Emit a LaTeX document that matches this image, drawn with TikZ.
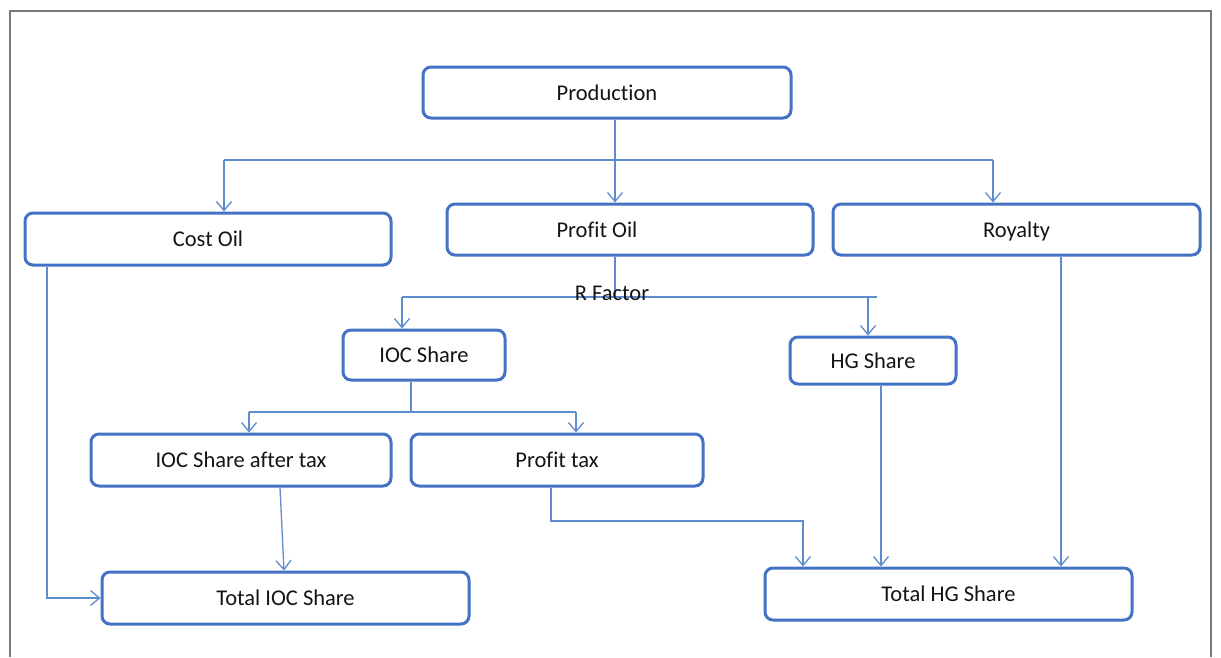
\documentclass[tikz,border=0pt]{standalone}
\usepackage{fontspec}
\setmainfont{Carlito}[Ligatures=NoCommon]
\usetikzlibrary{arrows.meta}
\definecolor{boxblue}{RGB}{68,114,196}
\definecolor{lineblue}{RGB}{95,140,205}
\definecolor{txt}{RGB}{20,20,20}
\definecolor{framegray}{RGB}{120,120,120}
\begin{document}
\begin{tikzpicture}[x=1pt,y=-1pt,
  box/.style={draw=boxblue, line width=3pt, rounded corners=8pt, inner sep=0pt,
    text=txt, font=\fontsize{22.5}{26}\selectfont},
  link/.style={draw=lineblue, line width=1.3pt},
  arr/.style={link, -{Straight Barb[length=9pt,width=15pt,line width=1.3pt]}},
  lbl/.style={text=txt, font=\fontsize{22.5}{26}\selectfont, inner sep=0pt}]
\useasboundingbox (0,0) rectangle (1221,657);
\draw[framegray, line width=2pt] (10,657) -- (10,11) -- (1211,11) -- (1211,657);

\node[box, minimum width=368pt, minimum height=51pt] (prod) at (607,92.5) {Production};
\node[box, minimum width=366pt, minimum height=52pt] (cost) at (208,239) {Cost Oil};
\node[box, minimum width=366pt, minimum height=51pt,
  label={[lbl, xshift=-33pt]center:Profit Oil}] (profit) at (630,229.5) {};
\node[box, minimum width=367pt, minimum height=51pt, text depth=0pt] (roy) at (1016.5,229.5) {Royalty};
\node[box, minimum width=162pt, minimum height=50pt] (iocs) at (424,355) {IOC Share};
\node[box, minimum width=166pt, minimum height=47pt] (hgs) at (873,360.5) {HG Share};
\node[box, minimum width=300pt, minimum height=52pt] (iocat) at (241,460) {IOC Share after tax};
\node[box, minimum width=292pt, minimum height=52pt] (ptax) at (557,460) {Profit tax};
\node[box, minimum width=367pt, minimum height=52pt] (tioc) at (285.5,598) {Total IOC Share};
\node[box, minimum width=367pt, minimum height=52pt] (thg) at (948.5,594) {Total HG Share};

% Production split
\coordinate (a) at (615,160);
\coordinate (aL) at (224,160);
\coordinate (aR) at (993,160);
\draw[link] (aL) -- (aR);
\draw[arr] (prod.south -| a) -- (profit.north -| a);
\draw[arr] (aL) -- (cost.north -| aL);
\draw[arr] (aR) -- (roy.north -| aR);

% R factor split
\coordinate (b) at (615,297);
\coordinate (bL) at (402,297);
\coordinate (bH) at (868,297);
\coordinate (bR) at (877,297);
\draw[link] (profit.south -| b) -- (b);
\draw[link] (bL) -- (bR);
\draw[arr] (bL) -- (iocs.north -| bL);
\draw[arr] (bH) -- (hgs.north -| bH);
\node[lbl] (rf) at (612,293) {R Factor};

% IOC share split
\coordinate (c) at (411,412);
\coordinate (cL) at (249,412);
\coordinate (cR) at (576,412);
\draw[link] (iocs.south -| c) -- (c);
\draw[link] (cL) -- (cR);
\draw[arr] (cL) -- (iocat.north -| cL);
\draw[arr] (cR) -- (ptax.north -| cR);

% Cost oil to total IOC
\coordinate (d) at (47,598);
\draw[arr] (cost.south -| d) -- (d) -- (tioc.west);

% IOC after tax to total IOC
\draw[arr] ([xshift=39pt]iocat.south) -- ([xshift=-1.5pt]tioc.north);

% Profit tax to total HG
\coordinate (f) at (551,521);
\coordinate (f2) at (803,521);
\draw[arr] (ptax.south -| f) -- (f) -- (f2) -- (thg.north -| f2);

% HG share and royalty to total HG
\coordinate (g) at (881,0);
\coordinate (h) at (1061,0);
\draw[arr] (hgs.south -| g) -- (thg.north -| g);
\draw[arr] (roy.south -| h) -- (thg.north -| h);
\end{tikzpicture}
\end{document}
